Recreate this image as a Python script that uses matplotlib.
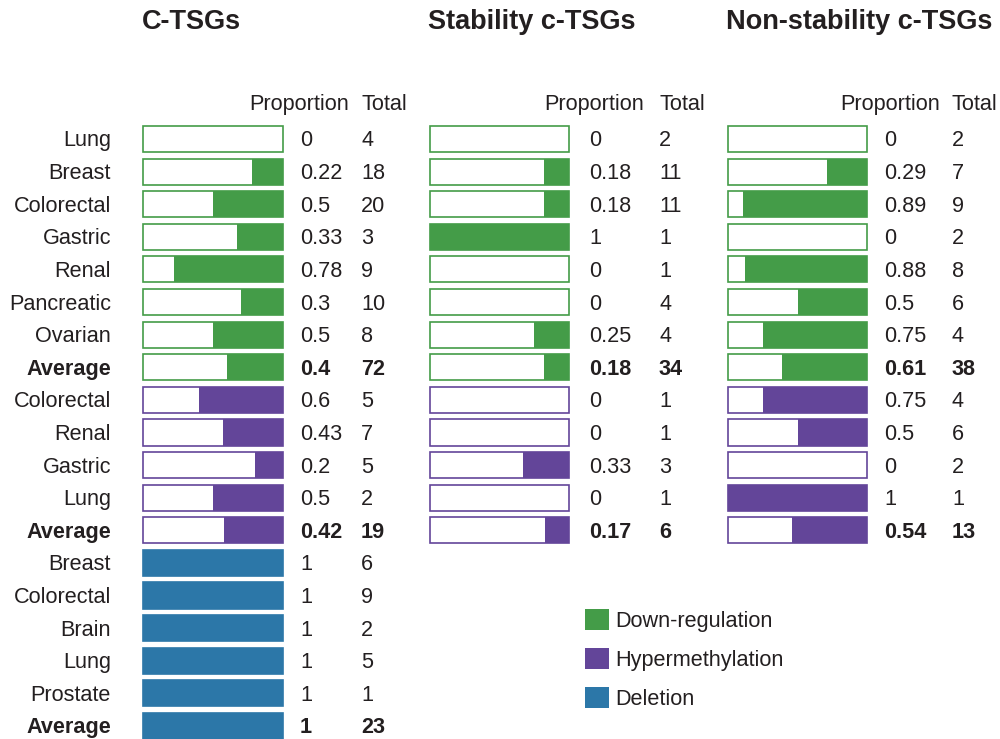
import matplotlib
matplotlib.use("Agg")
import matplotlib.pyplot as plt
from matplotlib.patches import Rectangle, Patch

# ---------------- data ----------------
panel_titles = ["C-TSGs", "Stability c-TSGs", "Non-stability c-TSGs"]

down_labels = ["Lung", "Breast", "Colorectal", "Gastric", "Renal", "Pancreatic", "Ovarian", "Average"]
hyper_labels = ["Colorectal", "Renal", "Gastric", "Lung", "Average"]
del_labels = ["Breast", "Colorectal", "Brain", "Lung", "Prostate", "Average"]

ctsg_down_prop = [0, 0.22, 0.5, 0.33, 0.78, 0.3, 0.5, 0.4]
ctsg_down_total = [4, 18, 20, 3, 9, 10, 8, 72]
ctsg_hyper_prop = [0.6, 0.43, 0.2, 0.5, 0.42]
ctsg_hyper_total = [5, 7, 5, 2, 19]
ctsg_del_prop = [1, 1, 1, 1, 1, 1]
ctsg_del_total = [6, 9, 2, 5, 1, 23]

stab_down_prop = [0, 0.18, 0.18, 1, 0, 0, 0.25, 0.18]
stab_down_total = [2, 11, 11, 1, 1, 4, 4, 34]
stab_hyper_prop = [0, 0, 0.33, 0, 0.17]
stab_hyper_total = [1, 1, 3, 1, 6]

nonstab_down_prop = [0, 0.29, 0.89, 0, 0.88, 0.5, 0.75, 0.61]
nonstab_down_total = [2, 7, 9, 2, 8, 6, 4, 38]
nonstab_hyper_prop = [0.75, 0.5, 0, 1, 0.54]
nonstab_hyper_total = [4, 6, 2, 1, 13]

legend_labels = ["Down-regulation", "Hypermethylation", "Deletion"]

# ---------------- style ----------------
GREEN = "#449c48"
PURPLE = "#634599"
BLUE = "#2c77a8"
TXT = "#231f20"
FS = 15.6
BODY = ["Liberation Sans", "DejaVu Sans"]
TITLE = ["Liberation Sans", "DejaVu Sans"]

fig = plt.figure(figsize=(10, 7.39), dpi=100)
ax = fig.add_axes([0, 0, 1, 1])
ax.set_xlim(0, 1000)
row_px = 32.61
ax.set_ylim((739 - 139) / row_px, -139 / row_px)
ax.axis("off")

bar_left = [143, 430, 728]
bar_w = [140, 139, 139]
prop_x = [300, 589, 884]
total_x = [361, 659, 952]
head_prop_x = [299, 594, 890]
title_x = [191, 532, 859]
label_right = 111
BH = 0.8
DY = 0.06  # text baseline nudge

groups = [
    [(GREEN, down_labels, ctsg_down_prop, ctsg_down_total),
     (PURPLE, hyper_labels, ctsg_hyper_prop, ctsg_hyper_total),
     (BLUE, del_labels, ctsg_del_prop, ctsg_del_total)],
    [(GREEN, down_labels, stab_down_prop, stab_down_total),
     (PURPLE, hyper_labels, stab_hyper_prop, stab_hyper_total)],
    [(GREEN, down_labels, nonstab_down_prop, nonstab_down_total),
     (PURPLE, hyper_labels, nonstab_hyper_prop, nonstab_hyper_total)],
]

for p, pgroups in enumerate(groups):
    x0, w = bar_left[p], bar_w[p]
    ax.text(title_x[p], -3.59, panel_titles[p], ha="center", va="center",
            fontsize=19.5, fontweight="bold", family=TITLE, color=TXT)
    ax.text(head_prop_x[p], -1.13 + DY, "Proportion", ha="center", va="center",
            fontsize=FS, family=BODY, color=TXT)
    ax.text(total_x[p], -1.13 + DY, "Total", ha="left", va="center",
            fontsize=FS, family=BODY, color=TXT)
    row = 0
    for color, labels, props, totals in pgroups:
        for lab, pr, tot in zip(labels, props, totals):
            bold = lab == "Average"
            fw = "bold" if bold else "normal"
            # outline box
            ax.add_patch(Rectangle((x0, row - BH / 2), w, BH, facecolor="white",
                                   edgecolor=color, linewidth=1.2, zorder=2))
            # filled part from the right
            ax.barh(row, pr * w, left=x0 + w * (1 - pr), height=BH,
                    color=color, edgecolor="none", zorder=3)
            if p == 0:
                ax.text(label_right, row + DY, lab, ha="right", va="center",
                        fontsize=FS, fontweight=fw, family=BODY, color=TXT)
            ax.text(prop_x[p], row + DY, f"{pr:g}", ha="left", va="center",
                    fontsize=FS, fontweight=fw, family=BODY, color=TXT)
            ax.text(total_x[p], row + DY, f"{tot}", ha="left", va="center",
                    fontsize=FS, fontweight=fw, family=BODY, color=TXT)
            row += 1

handles = [Patch(facecolor=c, edgecolor="none") for c in (GREEN, PURPLE, BLUE)]
leg = ax.legend(handles, legend_labels, loc="upper left",
                bbox_to_anchor=(583 / 1000, 1 - 607 / 739),
                frameon=False, prop={"family": BODY, "size": FS},
                handlelength=1.1, handleheight=1.1, handletextpad=0.3,
                labelspacing=0.74, borderpad=0.1, borderaxespad=0)
for t in leg.get_texts():
    t.set_color(TXT)

fig.savefig("out.png", dpi=100)
